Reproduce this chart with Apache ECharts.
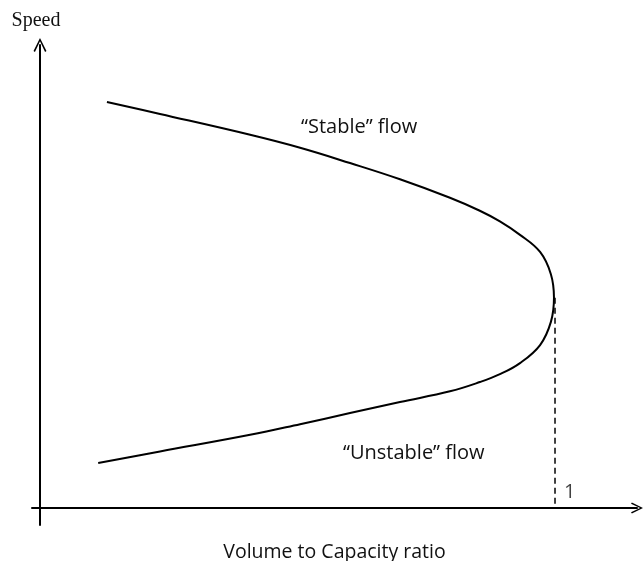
<!DOCTYPE html>
<html>
<head>
<meta charset="utf-8">
<script src="https://cdn.jsdelivr.net/npm/echarts@6/dist/echarts.min.js"></script>
<style>
html,body{margin:0;padding:0;background:#fff;}
#chart{width:643px;height:561px;}
</style>
</head>
<body>
<div id="chart"></div>
<script>
// Data (x: volume/capacity ratio, y: speed in arbitrary units)
var stableX   = [0.130, 0.233, 0.408, 0.505, 0.602, 0.699, 0.796, 0.854, 0.893, 0.932, 0.971, 0.992, 0.998];
var stableY   = [8.77, 8.51, 8.06, 7.78, 7.45, 7.10, 6.70, 6.42, 6.19, 5.90, 5.53, 5.05, 4.54];
var unstableX = [0.998, 0.992, 0.971, 0.932, 0.893, 0.854, 0.796, 0.699, 0.602, 0.505, 0.408, 0.233, 0.113];
var unstableY = [4.54, 4.02, 3.52, 3.13, 2.89, 2.72, 2.52, 2.29, 2.05, 1.81, 1.58, 1.22, 0.97];
var capacityX = [1, 1];
var capacityY = [4.54, 0];
var tickLabels = ['1'];
var regionLabels = ['\u201cStable\u201d flow', '\u201cUnstable\u201d flow'];
var axisNames = ['Volume to Capacity ratio', 'Speed'];

function zip(a, b) { return a.map(function (v, i) { return [v, b[i]]; }); }
var curve = zip(stableX, stableY).concat(zip(unstableX, unstableY).slice(1));

var chevron = 'path://M0,10 L5,0 L10,10 L8.9,10.8 L5,2.6 L1.1,10.8 Z';
var sans = '"Open Sans", "Noto Sans", sans-serif';

var chart = echarts.init(document.getElementById('chart'), null, {renderer: 'canvas'});
chart.setOption({
  animation: false,
  backgroundColor: '#ffffff',
  grid: {left: 32, right: 6, top: 45, bottom: 36, containLabel: false, outerBoundsMode: 'none'},
  xAxis: {
    type: 'value', min: -0.01553, max: 1.1592,
    name: axisNames[0], nameLocation: 'middle', nameGap: 17,
    nameTextStyle: {fontFamily: sans, fontSize: 19.5, color: '#111'},
    axisLine: {show: true, onZero: true, symbol: ['none', chevron], symbolSize: [13, 12],
      lineStyle: {color: '#000', width: 2}},
    axisTick: {show: false}, axisLabel: {show: false}, splitLine: {show: false}
  },
  yAxis: {
    type: 'value', min: -0.367, max: 10,
    name: axisNames[1], nameLocation: 'end', nameGap: 14,
    nameTextStyle: {fontFamily: '"Liberation Serif", "Times New Roman", serif', fontSize: 20, color: '#111', padding: [0, 8, 0, 0]},
    axisLine: {show: true, onZero: true, symbol: ['none', chevron], symbolSize: [16, 14],
      lineStyle: {color: '#000', width: 2}},
    axisTick: {show: false}, axisLabel: {show: false}, splitLine: {show: false}
  },
  series: [
    {
      type: 'custom', data: curve, z: 3,
      encode: {x: 0, y: 1},
      renderItem: function (params, api) {
        if (params.dataIndex !== 0) { return null; }
        var pts = curve.map(function (p) { return api.coord(p); });
        return {
          type: 'polyline',
          shape: {points: pts, smooth: 0.4},
          style: {stroke: '#000', lineWidth: 2, fill: null}
        };
      }
    },
    {
      type: 'line', data: zip(capacityX, capacityY), showSymbol: false, symbol: 'none',
      lineStyle: {color: '#000', width: 1.5, type: [6, 4]}, z: 2
    },
    {
      type: 'scatter', data: [[capacityX[1], capacityY[1]]], symbolSize: 0,
      label: {show: true, formatter: tickLabels[0], position: 'right', distance: 9, offset: [0, -16],
        fontFamily: sans, fontSize: 20, color: '#111'}
    }
  ],
  graphic: [
    {type: 'text', x: 301, y: 127, style: {text: regionLabels[0], font: '20px ' + sans, fill: '#111', verticalAlign: 'middle'}},
    {type: 'text', x: 343, y: 453, style: {text: regionLabels[1], font: '20px ' + sans, fill: '#111', verticalAlign: 'middle'}}
  ]
});
</script>
</body>
</html>
